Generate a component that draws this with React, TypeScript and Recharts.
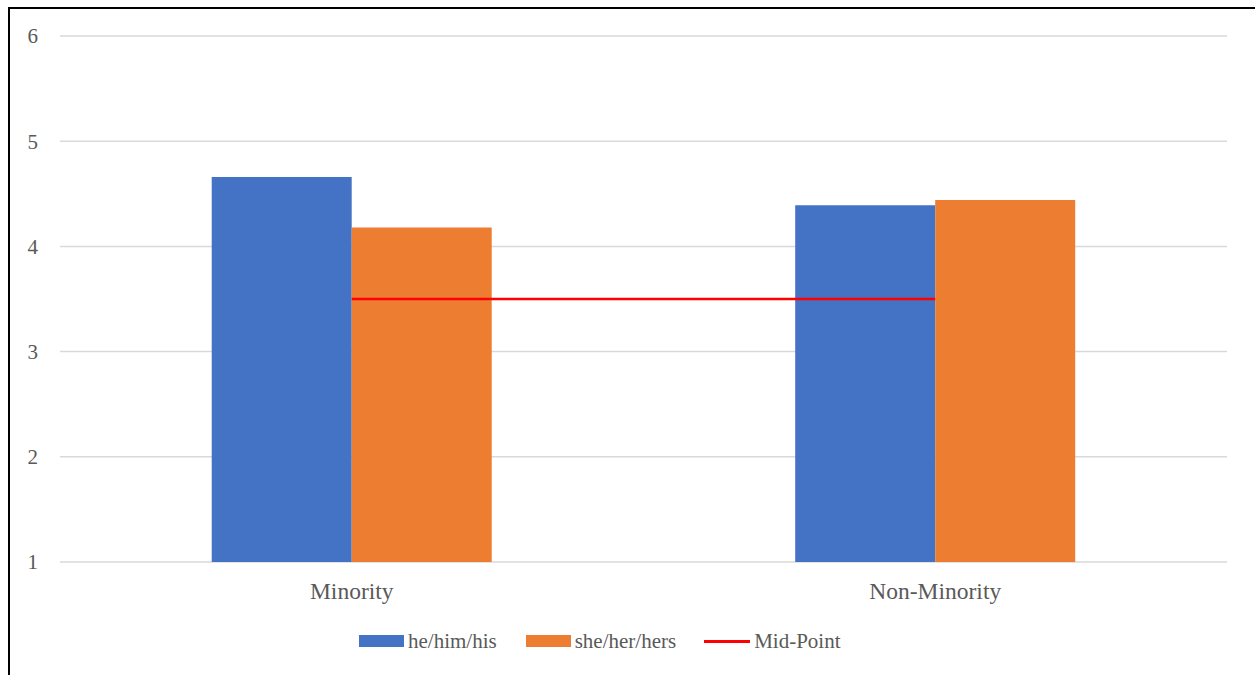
import { ComposedChart, Bar, Line, XAxis, YAxis, CartesianGrid, Legend } from "recharts";

const categories = ["Minority", "Non-Minority"];
const heValues = [4.66, 4.39];
const sheValues = [4.18, 4.44];
const midPointValues = [3.5, 3.5];
const yTicks = [1, 2, 3, 4, 5, 6];

const chartData = categories.map((name, i) => ({
  name,
  he: heValues[i],
  she: sheValues[i],
  mid: midPointValues[i],
}));

const FONT = "Liberation Serif, Tinos, DejaVu Serif, Times New Roman, Times, serif";
const TEXT = "#595959";

function ChartLegend() {
  const item = { display: "flex", alignItems: "center" } as const;
  const label = { fontFamily: FONT, fontSize: 21, color: TEXT, marginLeft: 4 };
  return (
    <div style={{ height: 30, display: "flex", alignItems: "center", paddingLeft: 349 }}>
      <div style={item}>
        <div style={{ width: 45, height: 12, background: "#4472c4" }} />
        <span style={label}>he/him/his</span>
      </div>
      <div style={{ ...item, marginLeft: 29 }}>
        <div style={{ width: 45, height: 12, background: "#ed7d31" }} />
        <span style={label}>she/her/hers</span>
      </div>
      <div style={{ ...item, marginLeft: 28 }}>
        <div style={{ width: 46, height: 3, background: "#ff0000" }} />
        <span style={label}>Mid-Point</span>
      </div>
    </div>
  );
}

export default function App() {
  return (
    <div
      style={{
        position: "absolute",
        left: 8,
        top: 7,
        width: 1270,
        height: 690,
        border: "2px solid #000",
        background: "#fff",
        fontFamily: FONT,
      }}
    >
      <ComposedChart
        width={1245}
        height={666}
        data={chartData}
        margin={{ top: 27, right: 28, left: 0, bottom: 19 }}
        barCategoryGap="26%"
        barGap={0}
        style={{ fontFamily: FONT }}
      >
        <CartesianGrid vertical={false} stroke="#d9d9d9" strokeWidth={1.5} />
        <XAxis
          dataKey="name"
          axisLine={false}
          tickLine={false}
          tickSize={0}
          tickMargin={20}
          height={64}
          tick={{ fill: TEXT, fontSize: 23.5, fontFamily: FONT }}
        />
        <YAxis
          domain={[1, 6]}
          ticks={yTicks}
          axisLine={false}
          tickLine={false}
          tickSize={0}
          tickMargin={22}
          width={50}
          tick={{ fill: TEXT, fontSize: 21, fontFamily: FONT }}
        />
        <Legend verticalAlign="bottom" content={() => <ChartLegend />} />
        <Bar dataKey="he" name="he/him/his" fill="#4472c4" isAnimationActive={false} />
        <Bar dataKey="she" name="she/her/hers" fill="#ed7d31" isAnimationActive={false} />
        <Line
          dataKey="mid"
          name="Mid-Point"
          stroke="#ff0000"
          strokeWidth={2.5}
          dot={false}
          activeDot={false}
          isAnimationActive={false}
        />
      </ComposedChart>
    </div>
  );
}
